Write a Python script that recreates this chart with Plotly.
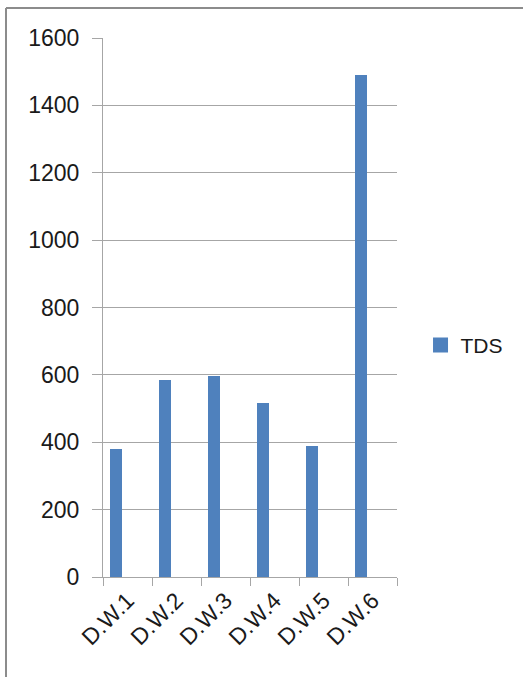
import plotly.graph_objects as go

# Total dissolved solids per sampling well
wells = ["D.W.1", "D.W.2", "D.W.3", "D.W.4", "D.W.5", "D.W.6"]
tds = [379, 584, 596, 518, 390, 1490]
y_ticks = [0, 200, 400, 600, 800, 1000, 1200, 1400, 1600]

BAR_COLOR = "#4F81BD"
GRID = "#A6A6A6"
FONT = "Liberation Sans"

fig = go.Figure()
fig.add_trace(go.Bar(
    x=wells, y=tds, name="TDS", showlegend=False, legendgroup="tds",
    marker=dict(color=BAR_COLOR, line=dict(width=0)),
    width=0.235, offset=-0.35,
))
# legend entry with a larger square swatch
fig.add_trace(go.Scatter(
    x=[None], y=[None], mode="markers", name="TDS", legendgroup="tds",
    marker=dict(symbol="square", size=15, color=BAR_COLOR),
))

W, H = 523, 677
L, R, T, B = 103, 126, 38, 100

fig.update_layout(
    width=W, height=H, autosize=False,
    margin=dict(l=L, r=R, t=T, b=B),
    paper_bgcolor="white", plot_bgcolor="white",
    font=dict(family=FONT, size=23, color="#1a1a1a"),
    showlegend=True,
    legend=dict(x=1.08, y=0.43, xanchor="left", yanchor="middle",
                font=dict(size=21), bgcolor="rgba(0,0,0,0)"),
    bargap=0,
    xaxis=dict(
        type="category", tickangle=-45,
        showline=True, linecolor=GRID, linewidth=1,
        ticks="outside", ticklen=8, tickcolor=GRID,
        tickson="boundaries", showgrid=False,
        range=[-0.5, 5.5],
    ),
    yaxis=dict(
        range=[0, 1600], tickvals=y_ticks,
        showline=True, linecolor=GRID, linewidth=1,
        ticks="outside", ticklen=10, tickcolor=GRID,
        showgrid=True, gridcolor=GRID, gridwidth=1,
        zeroline=False, ticklabelstandoff=8,
    ),
    shapes=[
        # frame lines along the top and left of the chart area
        dict(type="line", xref="paper", yref="paper",
             x0=-(L - 6) / (W - L - R), x1=(W - L) / (W - L - R),
             y0=1 + (T - 8) / (H - T - B), y1=1 + (T - 8) / (H - T - B),
             line=dict(color="#8C8C8C", width=2)),
        dict(type="line", xref="paper", yref="paper",
             x0=-(L - 6) / (W - L - R), x1=-(L - 6) / (W - L - R),
             y0=1 + (T - 8) / (H - T - B), y1=-B / (H - T - B),
             line=dict(color="#8C8C8C", width=2)),
    ],
)

fig.write_html("out.html")
